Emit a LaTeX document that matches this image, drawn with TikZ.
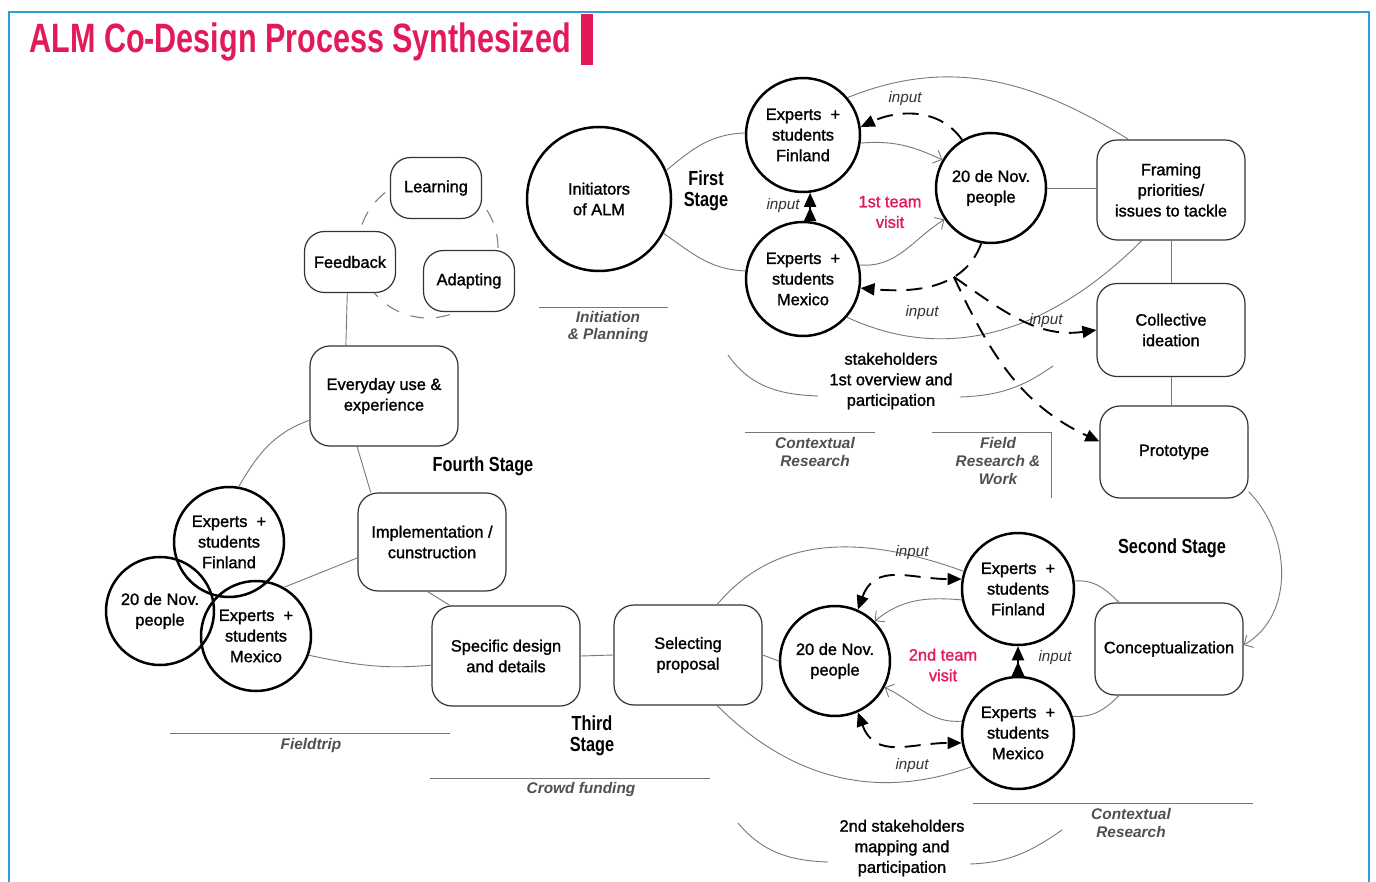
\documentclass[tikz,border=0pt]{standalone}
\usepackage{fontspec}
\setmainfont{Liberation Sans}
\newfontfamily\titlefont[FakeStretch=0.745]{Liberation Sans}
\newfontfamily\narrowfont[FakeStretch=0.8]{Liberation Sans}
\newfontfamily\nodefont[FakeBold=1.4]{Liberation Sans}
\usetikzlibrary{arrows.meta}
\definecolor{almred}{RGB}{226,26,90}
\definecolor{frameblue}{RGB}{42,160,220}
\definecolor{linegray}{RGB}{120,120,120}
\definecolor{tagtext}{RGB}{80,80,80}
\tikzset{
  person/.style={circle, draw=black, line width=1.25pt, inner sep=0pt, align=center, fill=white, font=\nodefont\fontsize{8.2}{10.3}\selectfont},
  phase/.style={rectangle, rounded corners=10pt, draw=black!80, line width=0.6pt, fill=white, align=center, minimum width=74pt, minimum height=48pt, inner sep=1pt, font=\nodefont\fontsize{8.2}{10.3}\selectfont},
  smallphase/.style={phase, minimum width=45.5pt, minimum height=30.5pt},
  link/.style={draw=linegray, line width=0.45pt},
  linkarrow/.style={link, -{Straight Barb[length=3.5pt,width=7pt]}},
  inputflow/.style={line width=0.95pt, dash pattern=on 8pt off 5pt, -{Triangle[length=7pt,width=6pt]}},
  bothflow/.style={inputflow, {Triangle[length=7pt,width=6pt]}-{Triangle[length=7pt,width=6pt]}},
  upflow/.style={line width=0.95pt, {Triangle[length=7pt,width=6pt,reversed]}-{Triangle[length=7pt,width=6pt]}},
  cycledash/.style={draw=linegray, line width=0.5pt, dash pattern=on 7pt off 6pt},
  stagelabel/.style={font=\narrowfont\bfseries\fontsize{10.2}{10.6}\selectfont, align=center},
  phasetag/.style={text=tagtext, font=\bfseries\itshape\fontsize{7.7}{8.9}\selectfont, align=center},
  inputlabel/.style={text=black!80, font=\itshape\fontsize{7.6}{9}\selectfont},
  visit/.style={text=almred, font=\nodefont\fontsize{8.2}{10.3}\selectfont, align=center},
  plain/.style={font=\nodefont\fontsize{8.2}{10.3}\selectfont, align=center},
}
\begin{document}
\begin{tikzpicture}[x=0.5pt, y=-0.5pt]
    \fill[white] (0,0) rectangle (1376,882);
    \useasboundingbox (0,0) rectangle (1376,882);
    \draw[frameblue, line width=1.4pt] (9,884)--(9,12)--(1369,12)--(1369,884);
    \node[anchor=base west, text=almred, font=\titlefont\bfseries\fontsize{20.5}{22}\selectfont, inner sep=0pt] (title) at (29,53) {ALM Co-Design Process Synthesized};
    \fill[almred] (581,14) rectangle (593,65);
    \draw[cycledash] (428,248) circle[radius=35pt];
    % first stage
    \node[person, minimum size=72pt] (init) at (599,199) {Initiators\\of ALM};
    \node[person, minimum size=57pt] (fin1) at (803,135) {Experts~~+\\students\\Finland};
    \node[person, minimum size=57pt] (mex1) at (803,279) {Experts~~+\\students\\Mexico};
    \node[person, minimum size=55pt] (nov1) at (991,188) {20 de Nov.\\people};
    \node[phase, minimum height=50pt] (framing) at (1171,190) {Framing\\priorities/\\issues to tackle};
    \node[phase, minimum height=46.5pt] (ideation) at (1171,330) {Collective\\ideation};
    \node[phase, minimum height=46pt] (proto) at (1174,452) {Prototype};
    % second and third stage
    \node[phase, minimum height=46pt] (concept) at (1169,649) {Conceptualization};
    \node[person, minimum size=56pt] (fin2) at (1018,589) {Experts~~+\\students\\Finland};
    \node[person, minimum size=56pt] (mex2) at (1018,733) {Experts~~+\\students\\Mexico};
    \node[person, minimum size=55pt] (nov2) at (835,661) {20 de Nov.\\people};
    \node[phase, minimum height=50pt] (select) at (688,655) {Selecting\\proposal};
    \node[phase, minimum height=50pt] (specific) at (506,656) {Specific design\\and details};
    % fourth stage
    \node[phase, minimum height=49pt] (impl) at (432,542) {Implementation /\\cunstruction};
    \node[phase, minimum height=50pt] (everyday) at (384,396) {Everyday use \&\\experience};
    \node[smallphase] (feedback) at (350,262) {Feedback};
    \node[smallphase] (learning) at (436,188) {Learning};
    \node[smallphase] (adapting) at (469,281) {Adapting};
    \node[person, fill=none, minimum size=55pt] (fin3) at (229,542) {Experts~~+\\students\\Finland};
    \node[person, fill=none, minimum size=54pt] (nov3) at (160,611) {20 de Nov.\\people};
    \node[person, fill=none, minimum size=55pt] (mex3) at (256,636) {Experts~~+\\students\\Mexico};

    \node[stagelabel] (st1) at (706,191) {First\\Stage};
    \node[stagelabel] (st2) at (1172,548) {Second Stage};
    \node[stagelabel] (st3) at (592,736) {Third\\Stage};
    \node[stagelabel] (st4) at (483,466) {Fourth Stage};
    \node[visit] (visit1) at (890,212) {1st team\\visit};
    \node[visit] (visit2) at (943,665) {2nd team\\visit};
    \node[plain] (stake1) at (891,381) {stakeholders\\1st overview and\\participation};
    \node[plain] (stake2) at (902,848) {2nd stakeholders\\mapping and\\participation};

    % thin links
    \draw[link] (init.23) to[out=40,in=182] (fin1.178);
    \draw[link] (init.-28) to[out=-35,in=178] (mex1.172);
    \draw[link] (fin1.40) to[out=22,in=148] (framing.130);
    \draw[link] (mex1.-41) to[out=-25,in=225] (framing.240);
    \draw[linkarrow] (fin1.-8) to[out=5,in=155] (nov1.150);
    \draw[linkarrow] (mex1.14) to[out=-5,in=212] (nov1.214);
    \draw[link] (nov1.east) -- (framing.west |- nov1.east);
    \draw[link] (framing.south) -- (ideation.north);
    \draw[link] (ideation.south) -- (ideation.south |- proto.north);
    \draw[linkarrow] (proto.-28) to[out=-45,in=30] (concept.3);
    \draw[link] (fin2.8) to[out=5,in=135] (concept.137);
    \draw[link] (mex2.17) to[out=-5,in=225] (concept.223);
    \draw[linkarrow] (fin2.191) to[out=175,in=40] (nov2.45);
    \draw[linkarrow] (mex2.168) to[out=185,in=-25] (nov2.-28);
    \draw[link] (select.60) to[out=50,in=160] (fin2.162);
    \draw[link] (select.-60) to[out=-45,in=200] (mex2.216);
    \draw[link] (select.east) -- (nov2.west);
    \draw[link] (specific.east) -- (select.west);
    \draw[link] (impl.265) -- (specific.138);
    \draw[link] (specific.187) to[out=185,in=-12] (mex3.-20);
    \draw[link] (impl.192) -- (mex3.60);
    \draw[link] (impl.141) -- (everyday.242);
    \draw[link] (everyday.198) to[out=200,in=60] (fin3.80);
    \draw[link] (feedback.265) -- (everyday.127);

    % input flows
    \draw[inputflow] (nov1.121) to[out=125,in=25] (fin1.8);
    \draw[upflow] (mex1.83) -- (fin1.-83);
    \draw[inputflow] (nov1.-100) to[out=-110,in=-5] coordinate[pos=0.33] (split) (mex1.-9);
    \draw[inputflow] (split) to[out=-35,in=188] (ideation.west);
    \draw[inputflow] (split) to[out=-65,in=155] (proto.172);
    \draw[bothflow] (nov2.66) to[out=70,in=180,looseness=1.2] (fin2.170);
    \draw[bothflow] (nov2.-66) to[out=-70,in=180,looseness=1.2] (mex2.190);
    \draw[upflow] (mex2.north) -- (fin2.south);
    \node[inputlabel] (in1) at (905,99) {input};
    \node[inputlabel] (in2) at (783,206) {input};
    \node[inputlabel] (in3) at (922,313) {input};
    \node[inputlabel] (in4) at (1046,321) {input};
    \node[inputlabel] (in5) at (912,553) {input};
    \node[inputlabel] (in6) at (1055,658) {input};
    \node[inputlabel] (in7) at (912,766) {input};

    % stakeholder arcs and phase tags
    \draw[link] (728,355) to[out=-55,in=178] (818,396);
    \draw[link] (960,397) to[out=2,in=215] (1053,366);
    \draw[link] (738,823) to[out=-50,in=178] (828,862);
    \draw[link] (970,864) to[out=2,in=215] (1062,830);
    \foreach \a/\b/\y in {539/668/307, 745/875/432, 932/1051/432, 170/450/733, 430/710/778, 973/1253/803}
        \draw[link] (\a,\y) -- (\b,\y);
    \draw[link] (1051,432) -- (1051,498);
    \node[phasetag] (tagplan) at (608,327) {Initiation\\\& Planning};
    \node[phasetag] (tagctx) at (815,452) {Contextual\\Research};
    \node[phasetag] (tagfield) at (998,461) {Field\\Research \&\\Work};
    \node[phasetag] (tagtrip) at (311,746) {Fieldtrip};
    \node[phasetag] (tagcrowd) at (581,790) {Crowd funding};
    \node[phasetag] (tagctxtwo) at (1131,823) {Contextual\\Research};
\end{tikzpicture}
\end{document}
